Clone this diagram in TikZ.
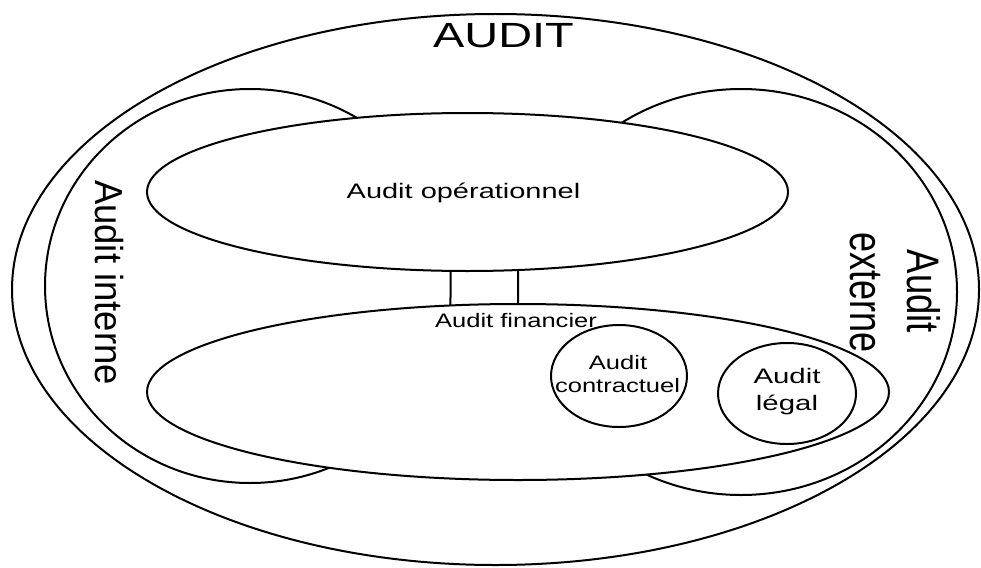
\documentclass[tikz,border=0pt]{standalone}
\usepackage{fontspec}
\setmainfont{Liberation Sans}
\usepackage{graphicx}
\usetikzlibrary{shapes.geometric}
\begin{document}
\begin{tikzpicture}[x=1pt,y=-1pt,
  every node/.style={inner sep=0pt, outer sep=0pt},
  ring/.style={draw, ellipse, line width=2pt},
  bridge/.style={line width=2pt},
  lbl/.style={anchor=base, font=\fontsize{#1}{#1}\selectfont}]
\useasboundingbox (0,0) rectangle (981,567);
% outer set
\node[ring, minimum width=967pt, minimum height=551pt] (audit) at (495.5,289.5) {};
% internal / external audit
\node[ring, minimum width=410pt, minimum height=394pt] (interne) at (250,286) {};
\node[ring, minimum width=432pt, minimum height=406pt] (externe) at (741,292) {};
% mask the gap between the two central sets
\fill[white] (440,262) rectangle (545,312);
% central sets
\node[ring, fill=white, minimum width=641pt, minimum height=158pt] (oper) at (467.5,192) {};
\node[ring, fill=white, minimum width=742pt, minimum height=176pt] (fin) at (518,392) {};
\node[ring, minimum width=136pt, minimum height=102pt] (contr) at (619,376) {};
\node[ring, minimum width=138pt, minimum height=101pt] (legal) at (787,393.5) {};
% bridge
\draw[bridge] (oper.-102.5) -- (fin.128.2);
\draw[bridge] (oper.-57.6) -- (fin.90.7);
% labels
\node[lbl=35, xscale=1.34] (tAudit) at (503.5,48) {AUDIT};
\node[lbl=21, xscale=1.38] (tOper) at (463.5,198) {Audit opérationnel};
\node[lbl=19.5, xscale=1.31] (tFin) at (516,327) {Audit financier};
\node[lbl=19.5, xscale=1.31] (tC1) at (618,369) {Audit};
\node[lbl=19.5, xscale=1.31] (tC2) at (617.5,392) {contractuel};
\node[lbl=21, xscale=1.4] (tL1) at (787,383) {Audit};
\node[lbl=21, xscale=1.4] (tL2) at (787,410) {légal};
\node[lbl=36.5, rotate=-90] (tInt) at (95,282.5) {\scalebox{1}[1.07]{Audit interne}};
\node[lbl=36.5, rotate=-90] (tExt1) at (907,291.5) {\scalebox{1}[1.25]{Audit}};
\node[lbl=36, rotate=-90] (tExt2) at (850,292.5) {\scalebox{1}[1.3]{externe}};
\end{tikzpicture}
\end{document}
